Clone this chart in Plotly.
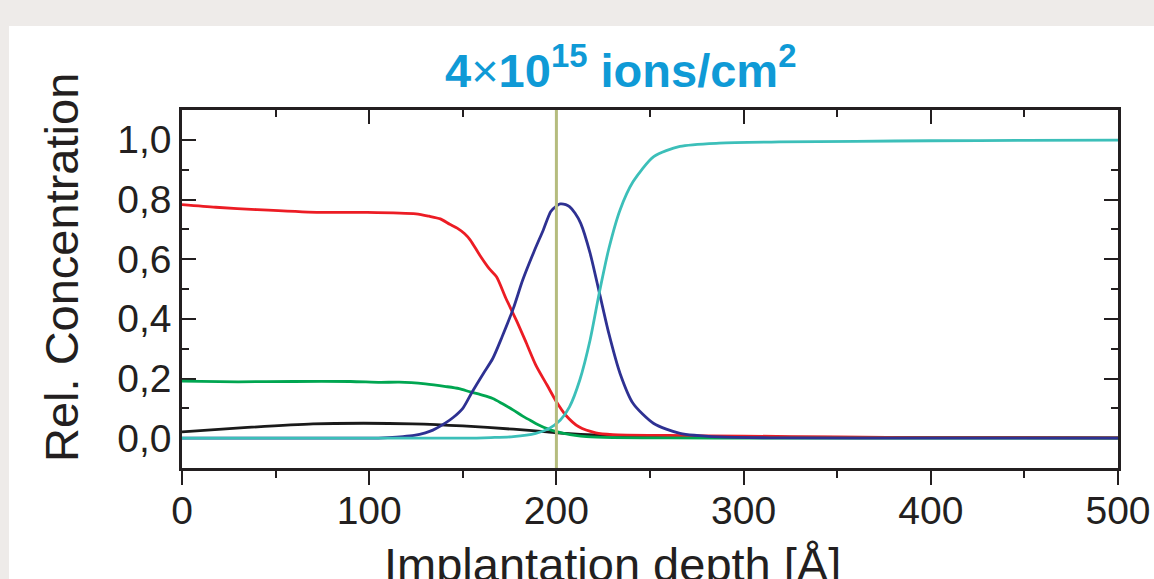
import plotly.graph_objects as go

# ---------------- data ----------------
red_x = [0, 18, 40, 72, 99, 125, 132, 138, 143, 147, 151, 154, 159, 164, 168, 173, 179, 184, 189, 195, 200, 205, 212, 221, 230, 260, 300, 350, 400, 500]
red_y = [0.783, 0.774, 0.766, 0.757, 0.757, 0.752, 0.744, 0.735, 0.717, 0.704, 0.685, 0.664, 0.614, 0.569, 0.541, 0.469, 0.39, 0.318, 0.245, 0.178, 0.122, 0.077, 0.038, 0.018, 0.012, 0.009, 0.007, 0.004, 0.002, 0.001]

green_x = [0, 30, 60, 90, 106, 116, 130, 141, 148, 154, 160, 166, 171, 177, 182, 186, 190, 195, 200, 204, 210, 216, 230, 260, 300, 500]
green_y = [0.191, 0.189, 0.19, 0.19, 0.187, 0.188, 0.182, 0.173, 0.166, 0.155, 0.145, 0.133, 0.116, 0.094, 0.074, 0.06, 0.046, 0.032, 0.022, 0.016, 0.009, 0.005, 0.002, 0.001, 0.0, 0.0]

black_x = [0, 35, 70, 97, 123, 150, 177, 195, 205, 220, 250, 300, 400, 500]
black_y = [0.021, 0.036, 0.048, 0.05, 0.048, 0.041, 0.03, 0.021, 0.016, 0.011, 0.007, 0.004, 0.002, 0.001]

blue_x = [0, 100, 110, 118, 124, 130, 134, 141, 145, 150, 155, 161, 166, 171, 177, 182, 188, 193, 197, 200, 202, 205, 207, 210, 213, 218, 223, 228, 234, 241, 252, 266, 287, 320, 400, 500]
blue_y = [0, 0, 0.002, 0.005, 0.009, 0.018, 0.027, 0.052, 0.07, 0.1, 0.155, 0.217, 0.267, 0.34, 0.435, 0.53, 0.625, 0.698, 0.76, 0.778, 0.785, 0.783, 0.776, 0.754, 0.72, 0.62, 0.486, 0.351, 0.217, 0.116, 0.049, 0.016, 0.004, 0.001, 0.0, 0.0]

cyan_x = [0, 150, 165, 177, 189, 196, 202, 207, 212.5, 218, 223, 228, 234, 241, 252, 266, 287, 319, 360, 400, 450, 500]
cyan_y = [0, 0, 0.002, 0.005, 0.016, 0.032, 0.06, 0.105, 0.195, 0.329, 0.49, 0.635, 0.765, 0.86, 0.944, 0.978, 0.989, 0.993, 0.995, 0.997, 0.998, 0.999]

marker_depth = 200

y_tickvals = [0.0, 0.2, 0.4, 0.6, 0.8, 1.0]
y_ticktext = ["0,0", "0,2", "0,4", "0,6", "0,8", "1,0"]
x_tickvals = [0, 100, 200, 300, 400, 500]

title_text = "<b>4</b>×<b>10<sup>15</sup> ions/cm<sup>2</sup></b>"
x_title = "Implantation depth [Å]"
y_title = "Rel. Concentration"

# ---------------- figure ----------------
W, H = 1154, 579
L, R, T, B = 182, 36, 110, 111
pw, ph = W - L - R, H - T - B

def px_to_paper_x(px):
    return (px - L) / pw

def px_to_paper_y(py):
    return (H - B - py) / ph

AX = "#231f20"
FONT = "Liberation Sans, Arial, Helvetica, sans-serif"

fig = go.Figure()
series = [
    (black_x, black_y, "#1a1a1a"),
    (red_x, red_y, "#ec1c24"),
    (green_x, green_y, "#00a651"),
    (blue_x, blue_y, "#2e3192"),
    (cyan_x, cyan_y, "#3cbfb9"),
]
for xs, ys, c in series:
    fig.add_trace(go.Scatter(x=xs, y=ys, mode="lines",
                             line=dict(color=c, width=2.8, shape="spline", smoothing=0.7),
                             showlegend=False, hoverinfo="skip", cliponaxis=False))

# dummy trace for top axis
fig.add_trace(go.Scatter(x=[0, 500], y=[None, None], xaxis="x2", mode="lines",
                         showlegend=False, hoverinfo="skip"))

fig.add_shape(type="line", xref="x", yref="y", x0=marker_depth, x1=marker_depth,
              y0=-0.1, y1=1.1, line=dict(color="#b5bc7e", width=3), layer="above")

# white panel over gray page background
fig.add_shape(type="rect", xref="paper", yref="paper",
              x0=px_to_paper_x(9), x1=px_to_paper_x(1200),
              y0=px_to_paper_y(700), y1=px_to_paper_y(26),
              fillcolor="white", line=dict(width=0), layer="below")

fig.update_layout(
    width=W, height=H, autosize=False,
    margin=dict(l=L, r=R, t=T, b=B, pad=0, autoexpand=False),
    paper_bgcolor="#eeebe9", plot_bgcolor="white",
    font=dict(family=FONT, color=AX),
    showlegend=False,
    xaxis=dict(range=[0, 500], tickvals=x_tickvals, ticks="outside", ticklen=14, tickwidth=2,
               tickcolor=AX, showline=True, linecolor=AX, linewidth=2.5, mirror=False,
               showgrid=False, zeroline=False, automargin=False, ticklabelstandoff=-8,
               layer="below traces",
               tickfont=dict(size=39, color=AX, family=FONT),
               minor=dict(ticks="outside", ticklen=7, tickwidth=2, tickcolor=AX, dtick=50, tick0=0, showgrid=False)),
    xaxis2=dict(range=[0, 500], overlaying="x", side="top", anchor="y", tickvals=x_tickvals,
                ticks="inside", ticklen=14, tickwidth=2, tickcolor=AX, showline=True, linecolor=AX,
                linewidth=2.5, showgrid=False, zeroline=False, showticklabels=False, automargin=False,
                layer="below traces",
                minor=dict(ticks="inside", ticklen=7, tickwidth=2, tickcolor=AX, dtick=50, tick0=0, showgrid=False)),
    yaxis=dict(range=[-0.1, 1.1], tickvals=y_tickvals, ticktext=y_ticktext, ticks="inside",
               ticklen=14, tickwidth=2, tickcolor=AX, showline=True, linecolor=AX, linewidth=2.5,
               mirror="ticks", showgrid=False, zeroline=False, ticklabelstandoff=0, automargin=False,
               layer="below traces",
               tickfont=dict(size=39, color=AX, family=FONT),
               minor=dict(ticks="inside", ticklen=7, tickwidth=2, tickcolor=AX, dtick=0.1, tick0=0, showgrid=False)),
)

fig.add_annotation(text=title_text, xref="paper", yref="paper",
                   x=px_to_paper_x(620), y=px_to_paper_y(67), xanchor="center", yanchor="middle",
                   showarrow=False, font=dict(size=47, color="#0f9ad6", family=FONT))
fig.add_annotation(text=y_title, xref="paper", yref="paper", textangle=-90,
                   x=px_to_paper_x(61), y=px_to_paper_y(268), xanchor="center", yanchor="middle",
                   showarrow=False, font=dict(size=47, color=AX, family=FONT))
fig.add_annotation(text=x_title, xref="paper", yref="paper",
                   x=px_to_paper_x(612), y=px_to_paper_y(564), xanchor="center", yanchor="middle",
                   showarrow=False, font=dict(size=47, color=AX, family=FONT))

fig.write_html("out.html")
